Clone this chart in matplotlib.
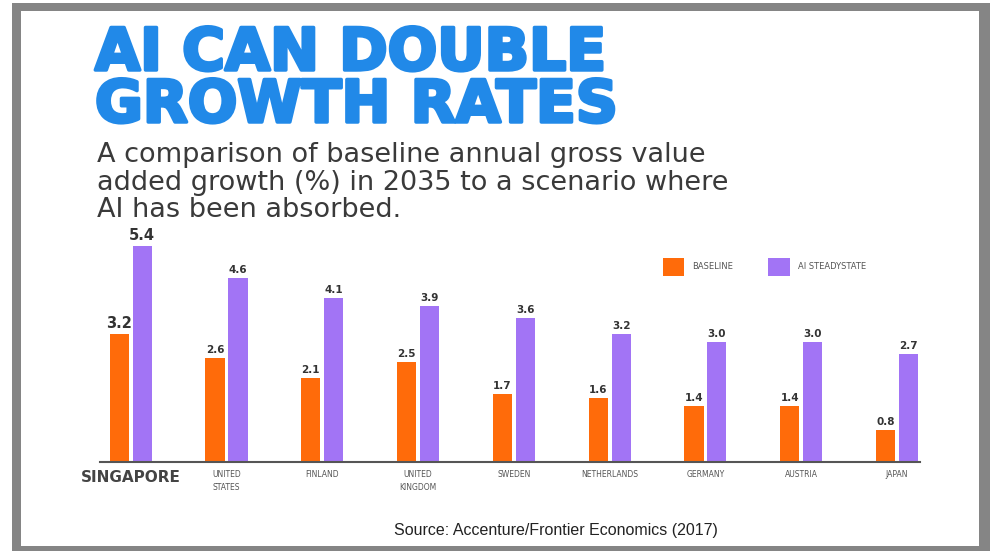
import numpy as np
import matplotlib.pyplot as plt
from matplotlib.patches import Rectangle
import matplotlib.patheffects as pe

countries = ["SINGAPORE", "UNITED\nSTATES", "FINLAND", "UNITED\nKINGDOM", "SWEDEN",
             "NETHERLANDS", "GERMANY", "AUSTRIA", "JAPAN"]
baseline = [3.2, 2.6, 2.1, 2.5, 1.7, 1.6, 1.4, 1.4, 0.8]
ai_steady = [5.4, 4.6, 4.1, 3.9, 3.6, 3.2, 3.0, 3.0, 2.7]
series_names = ["BASELINE", "AI STEADYSTATE"]

orange = "#ff6b0a"
purple = "#a274f5"

fig = plt.figure(figsize=(9.94, 5.51), dpi=100)
W, H = 994, 551

# gray frame round the slide
fig.patches.append(Rectangle((12 / W, 0), 978 / W, 548 / H, transform=fig.transFigure,
                             facecolor="#858585", edgecolor="none", zorder=-2))
fig.patches.append(Rectangle((21 / W, 5 / H), 958 / W, 535 / H, transform=fig.transFigure,
                             facecolor="white", edgecolor="none", zorder=-1))

# title + subtitle
title_fx = [pe.withStroke(linewidth=2.5, foreground="#2189e8")]
fig.text(95 / W, 1 - 70 / H, "AI CAN DOUBLE", fontsize=42, fontweight="bold",
         color="#2189e8", va="baseline", path_effects=title_fx)
fig.text(95 / W, 1 - 122 / H, "GROWTH RATES", fontsize=42, fontweight="bold",
         color="#2189e8", va="baseline", path_effects=title_fx)
fig.text(97 / W, 1 - 142 / H,
         "A comparison of baseline annual gross value\n"
         "added growth (%) in 2035 to a scenario where\n"
         "AI has been absorbed.",
         fontsize=19.5, color="#3a3a3a", va="top", linespacing=1.08)

ax = fig.add_axes([100 / W, 89 / H, 820 / W, 240 / H])
x = np.arange(len(countries))
w = 0.2
b1 = ax.bar(x - 0.12, baseline, w, color=orange, label=series_names[0])
b2 = ax.bar(x + 0.12, ai_steady, w, color=purple, label=series_names[1])

for i in range(len(countries)):
    fs = 10.5 if i == 0 else 7.5
    ax.text(x[i] - 0.12, baseline[i] + 0.07, f"{baseline[i]:.1f}", ha="center", va="bottom",
            fontsize=fs, fontweight="bold", color="#333333")
    ax.text(x[i] + 0.12, ai_steady[i] + 0.07, f"{ai_steady[i]:.1f}", ha="center", va="bottom",
            fontsize=fs, fontweight="bold", color="#333333")

ax.set_xlim(-0.32, 8.24)
ax.set_ylim(0, 6)
for s in ["top", "right", "left"]:
    ax.spines[s].set_visible(False)
ax.spines["bottom"].set_color("#555555")
ax.spines["bottom"].set_linewidth(1.5)
ax.set_yticks([])
ax.set_xticks(x)
ax.set_xticklabels(countries, fontsize=5.5, color="#555555", linespacing=1.5)
ax.tick_params(axis="x", length=0, pad=6)
lab0 = ax.get_xticklabels()[0]
lab0.set_fontsize(11)
lab0.set_fontweight("bold")
lab0.set_color("#444444")

fig.legend(handles=[b1, b2], labels=series_names, loc="center left",
           bbox_to_anchor=(655 / W, 1 - 267 / H), ncol=2, frameon=False,
           fontsize=6, handlelength=2.6, handleheight=3.0, handletextpad=1.0,
           columnspacing=4.2, labelcolor="#555555")

fig.text(556 / W, 1 - 530 / H, "Source: Accenture/Frontier Economics (2017)",
         fontsize=11.5, family=["Liberation Sans", "DejaVu Sans"], color="#222222",
         ha="center", va="center")

fig.savefig("out.png", dpi=100)
